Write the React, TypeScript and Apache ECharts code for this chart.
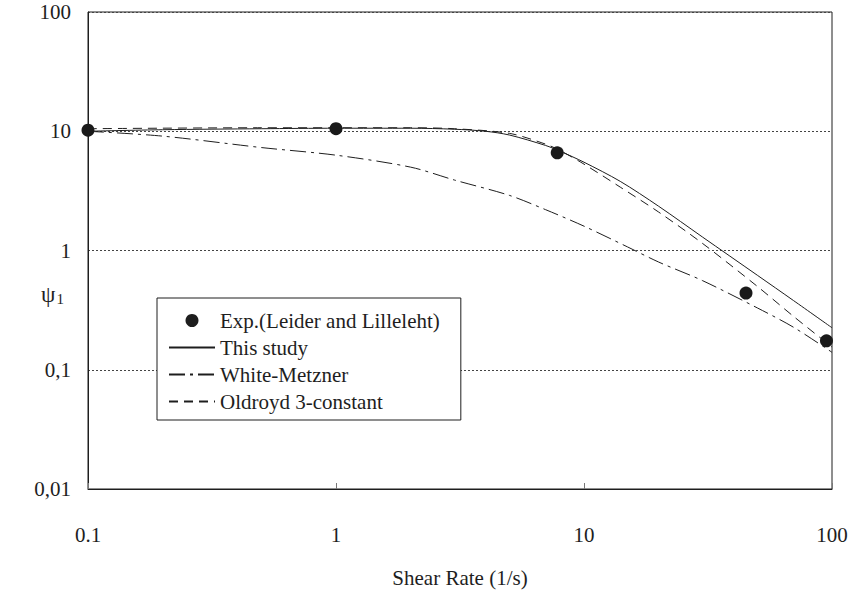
import React, { useEffect, useRef } from "react";
import * as echarts from "echarts";

// Tick labels
const xTicks = ["0.1", "1", "10", "100"];
const yTicks = ["0,01", "0,1", "1", "10", "100"];

// Experimental points (Leider and Lilleleht)
const expX = [0.1, 1, 7.8, 45, 95];
const expY = [10.2, 10.5, 6.6, 0.44, 0.175];

// This study (solid)
const studyX = [0.1, 0.2, 0.5, 1, 2, 3, 4, 5, 7, 8, 10, 14, 20, 30, 50, 70, 100];
const studyY = [10.0, 10.3, 10.5, 10.6, 10.6, 10.4, 10.0, 9.3, 7.6, 6.8, 5.5, 3.8, 2.35, 1.3, 0.62, 0.38, 0.225];

// White-Metzner (dash-dot)
const wmX = [0.1, 0.2, 0.5, 1, 2, 3, 5, 7, 10, 15, 20, 30, 50, 70, 100];
const wmY = [10.0, 9.1, 7.3, 6.3, 5.0, 3.9, 2.9, 2.2, 1.6, 1.07, 0.8, 0.56, 0.33, 0.227, 0.14];

// Oldroyd 3-constant (dashed)
const oldX = [0.1, 0.5, 1, 2, 3, 5, 7, 8, 10, 14, 20, 30, 50, 70, 100];
const oldY = [10.5, 10.7, 10.7, 10.7, 10.5, 9.6, 7.8, 6.9, 5.3, 3.4, 2.1, 1.15, 0.5, 0.28, 0.155];

const seriesNames = ["Exp.(Leider and Lilleleht)", "This study", "White-Metzner", "Oldroyd 3-constant"];

const FONT = "Liberation Serif";
const INK = "#1e1e1e";

const zip = (xs: number[], ys: number[]) => xs.map((x, i) => [x, ys[i]]);

const fmt = (v: number) => Number(v.toPrecision(6));
const xLabel = (v: number) => {
  const s = String(fmt(v));
  return xTicks.includes(s) ? s : "";
};
const yLabel = (v: number) => {
  const s = String(fmt(v)).replace(".", ",");
  return yTicks.includes(s) ? s : "";
};

export default function App() {
  const ref = useRef<HTMLDivElement>(null);
  useEffect(() => {
    if (!ref.current) return;
    const chart = echarts.init(ref.current, null, { renderer: "svg" });
    const lineBase = { type: "line", symbol: "none", smooth: 0.3, z: 3 };
    const hiddenSymbol = { opacity: 0, color: "transparent", borderWidth: 0 };
    chart.setOption({
      animation: false,
      backgroundColor: "#ffffff",
      textStyle: { fontFamily: FONT, color: INK },
      grid: {
        left: 88,
        right: 22,
        top: 12,
        bottom: 109,
        show: true,
        borderColor: INK,
        borderWidth: 1,
        backgroundColor: "transparent",
      },
      xAxis: {
        type: "log",
        logBase: 10,
        min: 0.1,
        max: 100,
        axisLine: { show: true, lineStyle: { color: INK, width: 1 } },
        axisTick: { show: true, inside: true, length: 6, lineStyle: { color: "#777" } },
        minorTick: { show: false },
        axisLabel: { margin: 35, fontSize: 21, color: INK, fontFamily: FONT, formatter: xLabel },
        splitLine: { show: false },
        name: "Shear Rate (1/s)",
        nameLocation: "middle",
        nameGap: 78,
        nameTextStyle: { fontSize: 21, color: INK, fontFamily: FONT },
      },
      yAxis: {
        type: "log",
        logBase: 10,
        min: 0.01,
        max: 100,
        axisLine: { show: true, lineStyle: { color: INK, width: 1 } },
        axisTick: { show: false },
        minorTick: { show: false },
        axisLabel: { margin: 17, fontSize: 21, color: INK, fontFamily: FONT, formatter: yLabel },
        splitLine: { show: true, lineStyle: { type: [2, 2], color: "#444", width: 1 } },
      },
      legend: {
        orient: "vertical",
        left: 157,
        top: 298,
        padding: [12, 21, 8, 11],
        itemWidth: 46,
        itemHeight: 13,
        itemGap: 6,
        backgroundColor: "#ffffff",
        borderColor: INK,
        borderWidth: 1,
        borderRadius: 0,
        textStyle: { fontSize: 21, color: INK, fontFamily: FONT },
        data: [
          { name: seriesNames[0], icon: "circle", itemStyle: { color: INK, opacity: 1 } },
          { name: seriesNames[1], itemStyle: hiddenSymbol },
          { name: seriesNames[2], itemStyle: hiddenSymbol },
          { name: seriesNames[3], itemStyle: hiddenSymbol },
        ],
        z: 10,
      },
      graphic: [
        {
          type: "text",
          left: 41,
          top: 283,
          style: {
            text: "{a|ψ}{b|1}",
            fill: INK,
            rich: {
              a: { fontSize: 23, fontFamily: FONT, fill: INK },
              b: { fontSize: 15, fontFamily: FONT, fill: INK, padding: [8, 0, 0, 1] },
            },
          },
        },
      ],
      series: [
        {
          ...lineBase,
          name: seriesNames[1],
          data: zip(studyX, studyY),
          lineStyle: { color: INK, width: 1, type: "solid" },
          itemStyle: { color: INK },
        },
        {
          ...lineBase,
          name: seriesNames[2],
          data: zip(wmX, wmY),
          lineStyle: { color: INK, width: 1, type: [16, 5, 3, 5] },
          itemStyle: { color: INK },
        },
        {
          ...lineBase,
          name: seriesNames[3],
          data: zip(oldX, oldY),
          lineStyle: { color: INK, width: 1, type: [9, 6] },
          itemStyle: { color: INK },
        },
        {
          type: "scatter",
          name: seriesNames[0],
          data: zip(expX, expY),
          symbol: "circle",
          symbolSize: 13,
          clip: false,
          itemStyle: { color: "#1a1a1a", opacity: 1 },
          z: 5,
        },
      ],
    });
    return () => chart.dispose();
  }, []);
  return (
    <div
      ref={ref}
      style={{ position: "fixed", left: 0, top: 0, width: 854, height: 598 }}
    />
  );
}
